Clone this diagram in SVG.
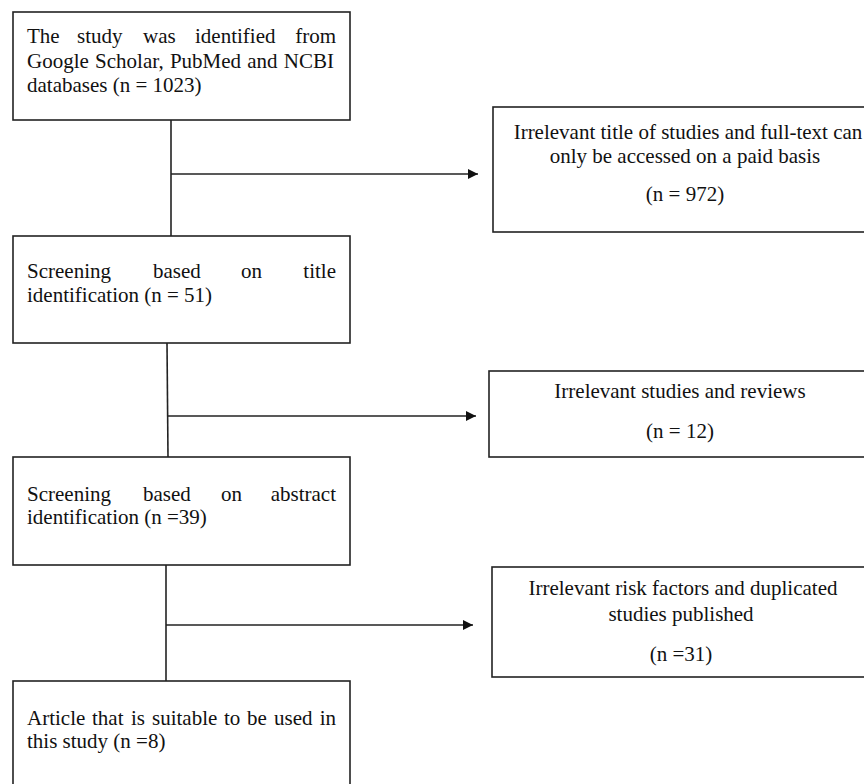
<svg xmlns="http://www.w3.org/2000/svg" width="864" height="784" viewBox="0 0 864 784">
<defs>
<style>
.box{fill:#fff;stroke:#222;stroke-width:1.6}
.t{font-family:"Liberation Serif","Times New Roman",serif;font-size:21px;fill:#111}
.c{text-anchor:middle}
.e{text-anchor:end}
.ln{stroke:#222;stroke-width:1.6;fill:none}
</style>
<marker id="ah" viewBox="0 0 10 10" refX="10" refY="5" markerWidth="11" markerHeight="10" markerUnits="userSpaceOnUse" orient="auto">
<path d="M0,0 L10,5 L0,10 z" fill="#111"/>
</marker>
</defs>
<rect width="864" height="784" fill="#fff"/>
<g id="connectors">
<line class="ln" x1="171" y1="120" x2="171" y2="236"/>
<line class="ln" x1="171" y1="174" x2="478" y2="174" marker-end="url(#ah)"/>
<line class="ln" x1="167" y1="343" x2="168" y2="457"/>
<line class="ln" x1="168" y1="416" x2="476" y2="416" marker-end="url(#ah)"/>
<line class="ln" x1="166" y1="565" x2="166" y2="681"/>
<line class="ln" x1="166" y1="625" x2="473" y2="625" marker-end="url(#ah)"/>
</g>
<g id="n1">
<rect class="box" x="13" y="12" width="337" height="108"/>
<text class="t" y="43"><tspan x="27">The</tspan><tspan x="77">study</tspan><tspan x="143">was</tspan><tspan x="195">identified</tspan><tspan x="336" text-anchor="end">from</tspan></text>
<text class="t" x="27" y="68" word-spacing="1">Google Scholar, PubMed and NCBI</text>
<text class="t" x="27" y="92">databases (n = 1023)</text>
</g>
<g id="r1">
<rect class="box" x="493" y="107" width="380" height="125"/>
<text class="t c" x="688" y="139">Irrelevant title of studies and full-text can</text>
<text class="t c" x="685" y="163">only be accessed on a paid basis</text>
<text class="t c" x="685" y="201">(n = 972)</text>
</g>
<g id="n2">
<rect class="box" x="13" y="236" width="337" height="107"/>
<text class="t" y="278"><tspan x="27">Screening</tspan><tspan x="153">based</tspan><tspan x="241">on</tspan><tspan x="336" text-anchor="end">title</tspan></text>
<text class="t" x="27" y="302">identification (n = 51)</text>
</g>
<g id="r2">
<rect class="box" x="489" y="371" width="384" height="86"/>
<text class="t c" x="680" y="398">Irrelevant studies and reviews</text>
<text class="t c" x="680" y="438">(n = 12)</text>
</g>
<g id="n3">
<rect class="box" x="13" y="457" width="337" height="108"/>
<text class="t" y="501"><tspan x="27">Screening</tspan><tspan x="143">based</tspan><tspan x="221">on</tspan><tspan x="336" text-anchor="end">abstract</tspan></text>
<text class="t" x="27" y="524">identification (n =39)</text>
</g>
<g id="r3">
<rect class="box" x="492" y="567" width="381" height="110"/>
<text class="t c" x="683" y="595">Irrelevant risk factors and duplicated</text>
<text class="t c" x="681" y="621">studies published</text>
<text class="t c" x="681" y="661">(n =31)</text>
</g>
<g id="n4">
<rect class="box" x="13" y="681" width="337" height="120"/>
<text class="t" y="725"><tspan x="27">Article</tspan><tspan x="92">that</tspan><tspan x="131">is</tspan><tspan x="152">suitable</tspan><tspan x="224">to</tspan><tspan x="247">be</tspan><tspan x="274">used</tspan><tspan x="336" text-anchor="end">in</tspan></text>
<text class="t" x="27" y="748">this study (n =8)</text>
</g>
</svg>
